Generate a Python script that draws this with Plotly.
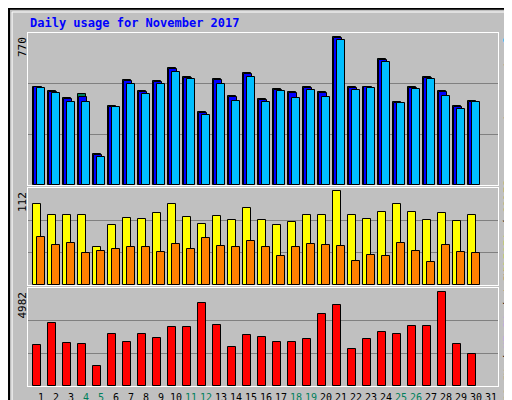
import plotly.graph_objects as go

days = list(range(1, 31))
hits = [499, 474, 440, 460, 156, 398, 531, 474, 526, 591, 545, 372, 536, 453, 565,
        435, 486, 469, 494, 470, 748, 494, 499, 636, 418, 494, 545, 474, 398, 428]
files = [494, 469, 435, 448, 151, 393, 526, 469, 521, 586, 540, 367, 531, 448, 560,
         430, 481, 464, 489, 465, 743, 489, 494, 631, 413, 489, 540, 469, 393, 423]
pages = [489, 464, 423, 423, 144, 393, 514, 459, 514, 570, 535, 357, 514, 428, 545,
         423, 474, 443, 479, 448, 733, 479, 489, 621, 413, 484, 535, 453, 387, 418]
visits = [93, 81, 81, 81, 44, 69, 77, 76, 83, 93, 79, 70, 80, 75, 89,
          75, 69, 73, 81, 81, 108, 81, 76, 84, 93, 84, 75, 83, 74, 81]
sites = [56, 46, 49, 37, 39, 41, 44, 44, 38, 47, 42, 54, 45, 44, 51,
         44, 34, 44, 47, 46, 45, 28, 35, 33, 48, 39, 26, 46, 38, 37]
kbytes = [2063, 3216, 2168, 2115, 1014, 2640, 2220, 2640, 2430, 3007, 3007, 4213, 3111, 1958, 2587,
          2482, 2220, 2220, 2377, 3636, 4108, 1905, 2377, 2744, 2640, 3059, 3059, 4790, 2115, 1643]
weekend = [4, 5, 11, 12, 18, 19, 25, 26]
max_hits, max_visits, max_kb = 770, 112, 4982

MONO = "DejaVu Sans Mono"
BG = "#C0C0C0"
line = dict(color="black", width=1)

fig = go.Figure()

def bar(y, color, offset, width, axis):
    fig.add_trace(go.Bar(x=days, y=y, marker=dict(color=color, line=line),
                         offset=offset, width=width, xaxis="x" + axis, yaxis="y" + axis,
                         showlegend=False))

bar(hits, "#00805C", -0.53, 0.5, "")
bar(files, "#0000FF", -0.45, 0.5, "")
bar(pages, "#00BFFF", -0.26, 0.5, "")
bar(visits, "#FFFF00", -0.53, 0.53, "2")
bar(sites, "#FF8000", -0.24, 0.48, "2")
bar(kbytes, "#FF0000", -0.53, 0.5, "3")

xdom = [20 / 512, 490 / 512]
xcommon = dict(domain=xdom, range=[0.13, 31.47], showgrid=False, zeroline=False,
               showline=True, linecolor="white", linewidth=1, mirror=True)
ticktext = [f"<span style='color:#00805C'>{d}</span>" if d in weekend else str(d)
            for d in range(1, 32)]

def yax(dom, top, anchor):
    return dict(domain=dom, range=[0, top], tickvals=[top / 3, 2 * top / 3],
                showticklabels=False, ticks="", gridcolor="#808080", gridwidth=1,
                zeroline=False, showline=True, linecolor="white", mirror=True, anchor=anchor)

fig.update_layout(
    width=512, height=400, margin=dict(l=0, r=0, t=0, b=0),
    paper_bgcolor=BG, plot_bgcolor=BG, barmode="overlay", bargap=0,
    font=dict(family=MONO, size=11, color="black"),
    xaxis=dict(xcommon, anchor="y", showticklabels=False),
    xaxis2=dict(xcommon, anchor="y2", showticklabels=False),
    xaxis3=dict(xcommon, anchor="y3", tickvals=list(range(1, 32)), ticktext=ticktext,
                ticks="", tickangle=0, ticklabelstandoff=2,
                tickfont=dict(family=MONO, size=10)),
    yaxis=yax([1 - 177 / 400, 1 - 25 / 400], max_hits, "x"),
    yaxis2=yax([1 - 277 / 400, 1 - 180 / 400], max_visits, "x2"),
    yaxis3=yax([1 - 378 / 400, 1 - 280 / 400], max_kb, "x3"),
)

ann = [
    dict(text="<b>Daily usage for November 2017</b>", x=20 / 512, y=1 - 15 / 400,
         xanchor="left", yanchor="middle", font=dict(color="#0000FF", size=12)),
    dict(text=str(max_hits), x=14 / 512, y=1 - 27 / 400, xanchor="center", yanchor="top", textangle=-90),
    dict(text=str(max_visits), x=14 / 512, y=1 - 182 / 400, xanchor="center", yanchor="top", textangle=-90),
    dict(text=str(max_kb), x=14 / 512, y=1 - 282 / 400, xanchor="center", yanchor="top", textangle=-90),
    dict(text="<span style='color:#00BFFF'>Pages</span> / <span style='color:#0000FF'>Files</span>"
              " / <span style='color:#00805C'>Hits</span>",
         x=500 / 512, y=1 - 82 / 400, xanchor="center", yanchor="middle", textangle=90),
    dict(text="<span style='color:#FF8000'>Sites</span> / <span style='color:#FFFF00'>Visits</span>",
         x=500 / 512, y=1 - 218 / 400, xanchor="center", yanchor="middle", textangle=90),
    dict(text="<span style='color:#FF0000'>kB F</span> / <span style='color:#0000FF'>kB In</span>"
              " / <span style='color:#00805C'>kB Out</span>",
         x=500 / 512, y=1 - 330 / 400, xanchor="center", yanchor="middle", textangle=90),
]
for a in ann:
    a.setdefault("font", dict(size=11))
    fig.add_annotation(xref="paper", yref="paper", showarrow=False, **a)

fig.add_shape(type="rect", xref="paper", yref="paper", x0=0.002, y0=0.002, x1=0.998, y1=0.998,
              line=dict(color="black", width=2))
fig.add_shape(type="rect", xref="paper", yref="paper", x0=0.008, y0=0.01, x1=0.992, y1=0.99,
              line=dict(color="white", width=1))

fig.write_html("out.html")
